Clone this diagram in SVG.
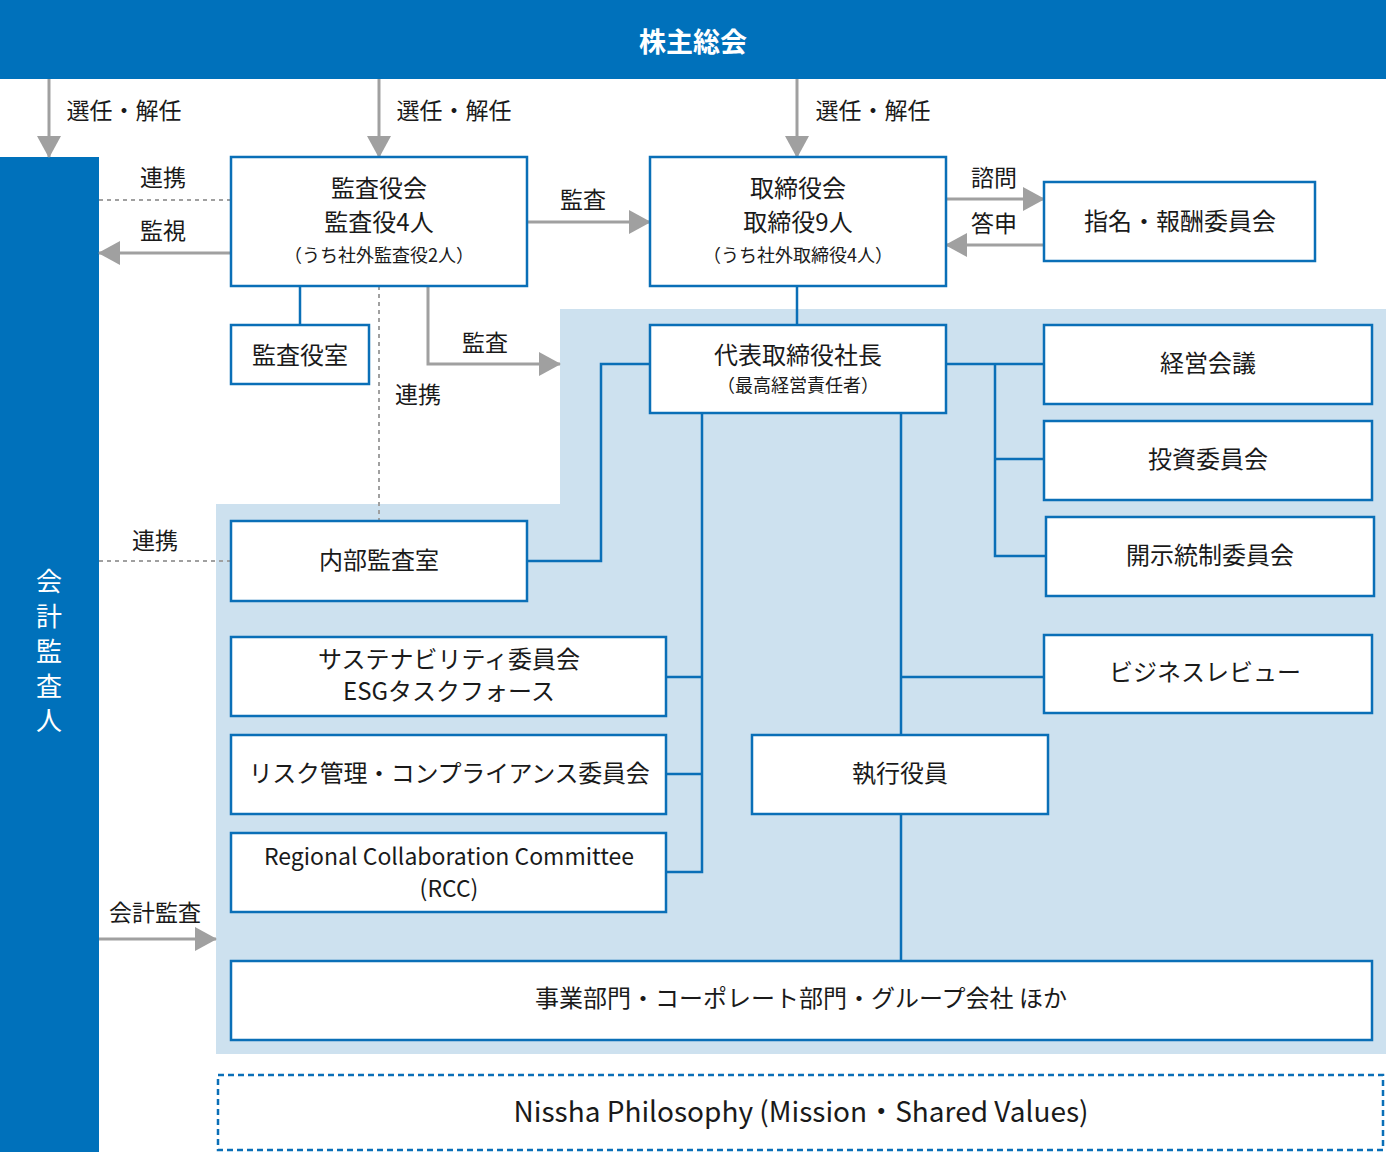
<svg xmlns="http://www.w3.org/2000/svg" width="1386" height="1152" viewBox="0 0 1386 1152">
<defs>
<marker id="ah" markerUnits="userSpaceOnUse" markerWidth="22" markerHeight="24" refX="21" refY="12" orient="auto">
<path d="M0,0 L22,12 L0,24 Z" fill="#a0a0a0"/>
</marker>
<style>
text{font-family:"Noto Sans CJK JP","Noto Sans",sans-serif;fill:#1a1a1a;text-anchor:middle;dominant-baseline:central}
.box{fill:#fff;stroke:#0a6fb7;stroke-width:2.5}
.t24{font-size:24px}
.t18{font-size:18px}
.lbl{font-size:23px}
.conn{fill:none;stroke:#0a6fb7;stroke-width:2.5}
.garr{fill:none;stroke:#a0a0a0;stroke-width:3;marker-end:url(#ah)}
.gdash{fill:none;stroke:#a0a0a0;stroke-width:2;stroke-dasharray:4 4}
</style>
</defs>
<rect x="0" y="0" width="1386" height="79" fill="#0071bb"/>
<rect x="0" y="157" width="99" height="995" fill="#0071bb"/>
<polygon points="560,309 1386,309 1386,1054 216,1054 216,504 560,504" fill="#cde1ef"/>

<g id="kabunushi">
<text x="693" y="40" style="font-size:27px;font-weight:bold;fill:#fff">株主総会</text>
</g>
<g id="kaikei">
<text x="49" y="579" style="font-size:26px;fill:#fff">会</text>
<text x="49" y="614" style="font-size:26px;fill:#fff">計</text>
<text x="49" y="649" style="font-size:26px;fill:#fff">監</text>
<text x="49" y="684" style="font-size:26px;fill:#fff">査</text>
<text x="49" y="718" style="font-size:26px;fill:#fff">人</text>
</g>

<g id="connectors">
<line class="garr" x1="49" y1="79" x2="49" y2="157"/>
<line class="garr" x1="379" y1="79" x2="379" y2="157"/>
<line class="garr" x1="797" y1="79" x2="797" y2="157"/>
<line class="garr" x1="527" y1="222" x2="650" y2="222"/>
<line class="garr" x1="946" y1="199" x2="1044" y2="199"/>
<line class="garr" x1="1044" y1="245" x2="946" y2="245"/>
<line class="gdash" x1="99" y1="200" x2="231" y2="200"/>
<line class="garr" x1="231" y1="253" x2="99" y2="253"/>
<line class="gdash" x1="379" y1="286" x2="379" y2="521"/>
<polyline class="garr" points="428,286 428,364 560,364"/>
<line class="gdash" x1="99" y1="561" x2="231" y2="561"/>
<line class="garr" x1="99" y1="939" x2="216" y2="939"/>
<line class="conn" x1="300" y1="286" x2="300" y2="325"/>
<line class="conn" x1="797" y1="286" x2="797" y2="325"/>
<polyline class="conn" points="650,364 601,364 601,561 527,561"/>
<line class="conn" x1="946" y1="364" x2="1044" y2="364"/>
<polyline class="conn" points="995,364 995,556 1046,556"/>
<line class="conn" x1="995" y1="459" x2="1044" y2="459"/>
<polyline class="conn" points="702,413 702,872 666,872"/>
<line class="conn" x1="702" y1="677" x2="666" y2="677"/>
<line class="conn" x1="702" y1="774" x2="666" y2="774"/>
<line class="conn" x1="901" y1="413" x2="901" y2="735"/>
<line class="conn" x1="901" y1="677" x2="1044" y2="677"/>
<line class="conn" x1="901" y1="814" x2="901" y2="961"/>
<text class="lbl" x="124" y="109">選任・解任</text>
<text class="lbl" x="454" y="109">選任・解任</text>
<text class="lbl" x="873" y="109">選任・解任</text>
<text class="lbl" x="163" y="176">連携</text>
<text class="lbl" x="163" y="229">監視</text>
<text class="lbl" x="583" y="198">監査</text>
<text class="lbl" x="994" y="176">諮問</text>
<text class="lbl" x="994" y="222">答申</text>
<text class="lbl" x="485" y="341">監査</text>
<text class="lbl" x="418" y="393">連携</text>
<text class="lbl" x="155" y="539">連携</text>
<text class="lbl" x="155" y="911">会計監査</text>
</g>

<g id="kansayakukai">
<rect class="box" x="231" y="157" width="296" height="129"/>
<text class="t24" x="379" y="186">監査役会</text>
<text class="t24" x="379" y="220">監査役4人</text>
<text class="t18" x="379" y="254">（うち社外監査役2人）</text>
</g>
<g id="torishimariyakukai">
<rect class="box" x="650" y="157" width="296" height="129"/>
<text class="t24" x="798" y="186">取締役会</text>
<text class="t24" x="798" y="220">取締役9人</text>
<text class="t18" x="798" y="254">（うち社外取締役4人）</text>
</g>
<g id="shimei">
<rect class="box" x="1044" y="182" width="271" height="79"/>
<text class="t24" x="1180" y="219">指名・報酬委員会</text>
</g>
<g id="kansayakushitsu">
<rect class="box" x="231" y="325" width="138" height="59"/>
<text class="t24" x="300" y="353">監査役室</text>
</g>
<g id="shacho">
<rect class="box" x="650" y="325" width="296" height="88"/>
<text class="t24" x="798" y="353">代表取締役社長</text>
<text class="t18" x="798" y="384">（最高経営責任者）</text>
</g>
<g id="keiei">
<rect class="box" x="1044" y="325" width="328" height="79"/>
<text class="t24" x="1208" y="361">経営会議</text>
</g>
<g id="toshi">
<rect class="box" x="1044" y="421" width="328" height="79"/>
<text class="t24" x="1208" y="457">投資委員会</text>
</g>
<g id="kaiji">
<rect class="box" x="1046" y="517" width="328" height="79"/>
<text class="t24" x="1210" y="553">開示統制委員会</text>
</g>
<g id="naibu">
<rect class="box" x="231" y="521" width="296" height="80"/>
<text class="t24" x="379" y="558">内部監査室</text>
</g>
<g id="sustainability">
<rect class="box" x="231" y="637" width="435" height="79"/>
<text class="t24" x="449" y="657">サステナビリティ委員会<tspan x="449" dy="32">ESGタスクフォース</tspan></text>
</g>
<g id="risk">
<rect class="box" x="231" y="735" width="435" height="79"/>
<text class="t24" x="449" y="771" style="letter-spacing:-0.3px">リスク管理・コンプライアンス委員会</text>
</g>
<g id="rcc">
<rect class="box" x="231" y="833" width="435" height="79"/>
<text x="449" y="855" style="font-size:23px">Regional Collaboration Committee<tspan x="449" dy="32">(RCC)</tspan></text>
</g>
<g id="business-review">
<rect class="box" x="1044" y="635" width="328" height="78"/>
<text class="t24" x="1205" y="670">ビジネスレビュー</text>
</g>
<g id="shikkou">
<rect class="box" x="752" y="735" width="296" height="79"/>
<text class="t24" x="900" y="771">執行役員</text>
</g>
<g id="jigyo">
<rect class="box" x="231" y="961" width="1141" height="79"/>
<text class="t24" x="801" y="996">事業部門・コーポレート部門・グループ会社 ほか</text>
</g>
<g id="philosophy">
<rect x="218" y="1075" width="1165" height="75" fill="none" stroke="#0a6fb7" stroke-width="2.5" stroke-dasharray="6 4"/>
<text x="801" y="1110" style="font-size:28px">Nissha Philosophy (Mission・Shared Values)</text>
</g>
</svg>
